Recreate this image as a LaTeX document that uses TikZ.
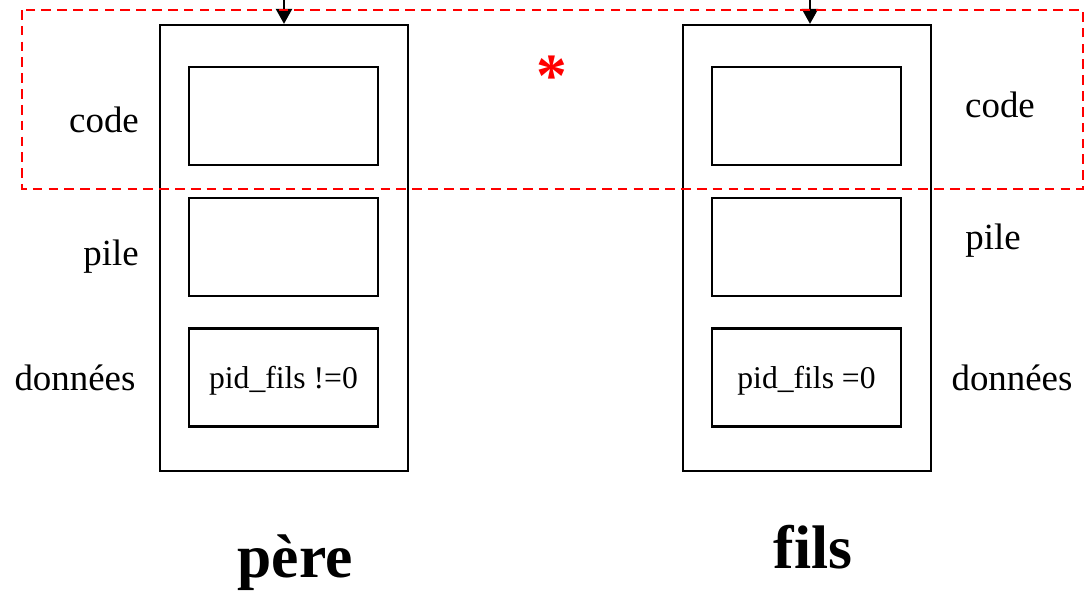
\documentclass[tikz,border=0pt]{standalone}
\usepackage{fontspec}
\setmainfont{Liberation Serif}
\usetikzlibrary{arrows.meta}

\begin{document}
\begin{tikzpicture}[x=0.02cm, y=-0.02cm,
  proc/.style={draw, line width=1.3pt, minimum width=4.96cm, minimum height=8.92cm},
  seg/.style={draw, line width=1.3pt, minimum width=3.78cm, minimum height=1.96cm,
    font=\fontsize{18}{20}\selectfont, text height=17pt, text depth=4pt},
  lbl/.style={font=\fontsize{21}{24}\selectfont},
  titre/.style={font=\fontsize{35}{40}\selectfont\bfseries}]
  \useasboundingbox (0,0) rectangle (1086,595);

  \node (pere) [proc] at (284, 248) {};
  \node (pcode) [seg] at (283.5, 116) {};
  \node (ppile) [seg] at (283.5, 247) {};
  \node (pdata) [seg] at (283.5, 377.5) {pid\_fils !=0};

  \node (fils) [proc] at (807, 248) {};
  \node (fcode) [seg] at (806.5, 116) {};
  \node (fpile) [seg] at (806.5, 247) {};
  \node (fdata) [seg] at (806.5, 377.5) {pid\_fils =0};

  \node (lcode) [lbl] at (104, 120) {code};
  \node (lpile) [lbl] at (111, 257) {pile};
  \node (ldata) [lbl] at (75, 378) {données};

  \node (rcode) [lbl] at (1000, 105) {code};
  \node (rpile) [lbl] at (993, 241) {pile};
  \node (rdata) [lbl] at (1012, 378) {données};

  \node (tpere) [titre] at (295, 563) {père};
  \node (tfils) [titre] at (813, 547) {fils};

  \node (etoile) [titre, text=red] at (552, 76) {*};

  \coordinate (inp) at (284, 0);
  \coordinate (inf) at (810, 0);
  \draw[-{Triangle[width=0.32cm,length=0.3cm]}, line width=1.3pt] (inp) to (pere.north);
  \draw[-{Triangle[width=0.32cm,length=0.3cm]}, line width=1.3pt] (inf) to (fils.north -| inf);

  \draw[red, line width=1.3pt, dash pattern=on 5.5pt off 3.5pt] (22, 10) rectangle (1083, 189);
\end{tikzpicture}
\end{document}
